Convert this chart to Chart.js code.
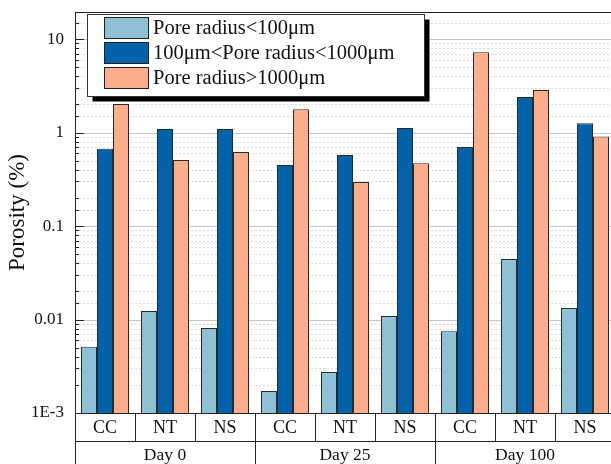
<!DOCTYPE html>
<html>
<head>
<meta charset="utf-8">
<script src="https://cdn.jsdelivr.net/npm/chart.js@4/dist/chart.umd.min.js"></script>
<style>
    html, body { margin: 0; padding: 0; background: #fff; overflow: hidden; }
    canvas { display: block; }
</style>
</head>
<body>
<canvas id="porosityChart" width="630" height="464"></canvas>
<script>
const samples = ['CC', 'NT', 'NS', 'CC', 'NT', 'NS', 'CC', 'NT', 'NS'];
const days = ['Day 0', 'Day 25', 'Day 100'];
const seriesLabels = ['Pore radius<100\u03bcm', '100\u03bcm<Pore radius<1000\u03bcm', 'Pore radius>1000\u03bcm'];
const smallPores = [0.0051, 0.0123, 0.0081, 0.00172, 0.00274, 0.0109, 0.0075, 0.0444, 0.0133];
const mediumPores = [0.67, 1.09, 1.09, 0.45, 0.575, 1.12, 0.70, 2.40, 1.26];
const largePores = [2.02, 0.508, 0.62, 1.78, 0.296, 0.47, 7.25, 2.85, 0.91];
const yTickLabels = { 0.001: '1E-3', 0.01: '0.01', 0.1: '0.1', 1: '1', 10: '10' };

document.addEventListener('DOMContentLoaded', () => {
    const ctx = document.getElementById('porosityChart').getContext('2d');
    const serif = '"Liberation Serif", "Times New Roman", serif';

    function isDecade(v) {
        const l = Math.log10(v);
        return Math.abs(l - Math.round(l)) < 1e-9;
    }

    // grid lines + inward tick marks, solid at decades and dotted in between
    const logGrid = {
        id: 'logGrid',
        beforeDatasetsDraw(chart) {
            const { ctx, chartArea: a, scales: { y } } = chart;
            ctx.save();
            y.ticks.forEach(t => {
                const py = Math.round(y.getPixelForValue(t.value)) + 0.5;
                if (py < a.top + 1 || py > a.bottom - 1) return;
                const major = isDecade(t.value);
                ctx.beginPath();
                ctx.lineWidth = 1;
                if (major) {
                    ctx.setLineDash([]);
                    ctx.strokeStyle = '#c6c6c6';
                } else {
                    ctx.setLineDash([2, 2]);
                    ctx.strokeStyle = '#dcdcdc';
                }
                ctx.moveTo(a.left, py);
                ctx.lineTo(a.right, py);
                ctx.stroke();
            });
            ctx.restore();
        },
        afterDatasetsDraw(chart) {
            const { ctx, chartArea: a, scales: { y } } = chart;
            ctx.save();
            ctx.strokeStyle = '#222';
            ctx.lineWidth = 1;
            y.ticks.forEach(t => {
                const py = Math.round(y.getPixelForValue(t.value)) + 0.5;
                if (py < a.top + 1 || py > a.bottom) return;
                const len = isDecade(t.value) ? 9 : 4;
                ctx.beginPath();
                ctx.moveTo(a.left, py);
                ctx.lineTo(a.left + len, py);
                ctx.stroke();
            });
            ctx.restore();
        }
    };

    // frame and the two-row category table under the plot
    const tableAxis = {
        id: 'tableAxis',
        afterDraw(chart) {
            const { ctx, chartArea: a, scales: { x } } = chart;
            const h = chart.height;
            const rowMid = a.bottom + 28;
            const left = Math.round(a.left) + 0.5;
            ctx.save();
            ctx.strokeStyle = '#222';
            ctx.lineWidth = 1;
            ctx.beginPath();
            ctx.moveTo(left, a.top + 0.5);
            ctx.lineTo(a.right + 20, a.top + 0.5);
            ctx.moveTo(left, a.top);
            ctx.lineTo(left, h);
            ctx.moveTo(left, a.bottom + 0.5);
            ctx.lineTo(a.right + 20, a.bottom + 0.5);
            ctx.moveTo(left, rowMid + 0.5);
            ctx.lineTo(a.right + 20, rowMid + 0.5);
            ctx.stroke();

            ctx.fillStyle = '#111';
            ctx.textAlign = 'center';
            ctx.textBaseline = 'middle';
            ctx.font = '18px ' + serif;
            samples.forEach((s, i) => {
                const cx = x.getPixelForValue(i);
                const step = i < samples.length - 1 ? x.getPixelForValue(i + 1) - cx : cx - x.getPixelForValue(i - 1);
                const edge = Math.round(cx + step / 2) + 0.5;
                ctx.beginPath();
                ctx.moveTo(edge, a.bottom);
                ctx.lineTo(edge, (i + 1) % 3 === 0 ? h : rowMid);
                ctx.stroke();
                ctx.fillText(s, cx, a.bottom + 15);
            });
            ctx.font = '17.5px ' + serif;
            days.forEach((d, g) => {
                const cx = (x.getPixelForValue(g * 3) + x.getPixelForValue(g * 3 + 2)) / 2;
                ctx.fillText(d, cx, rowMid + 14);
            });
            ctx.restore();
        }
    };

    // boxed legend with drop shadow inside the plot
    const boxLegend = {
        id: 'boxLegend',
        afterDraw(chart) {
            const { ctx } = chart;
            const bx = 87.5, by = 14.5, bw = 337, bh = 82;
            ctx.save();
            ctx.fillStyle = '#000';
            ctx.fillRect(bx + 5, by + 5, bw, bh);
            ctx.fillStyle = '#fff';
            ctx.fillRect(bx, by, bw, bh);
            ctx.strokeStyle = '#333';
            ctx.lineWidth = 1;
            ctx.strokeRect(bx, by, bw, bh);
            ctx.font = '20.5px ' + serif;
            ctx.textBaseline = 'middle';
            ctx.textAlign = 'left';
            chart.data.datasets.forEach((ds, i) => {
                const ry = 17.5 + i * 25;
                ctx.fillStyle = ds.backgroundColor;
                ctx.fillRect(104.5, ry, 44, 21);
                ctx.strokeStyle = '#222';
                ctx.strokeRect(104.5, ry, 44, 21);
                ctx.fillStyle = '#111';
                ctx.fillText(ds.label, 153, ry + 11);
            });
            ctx.restore();
        }
    };

    new Chart(ctx, {
        type: 'bar',
        data: {
            labels: samples,
            datasets: [
                { label: seriesLabels[0], data: smallPores, backgroundColor: '#8ec0d6' },
                { label: seriesLabels[1], data: mediumPores, backgroundColor: '#0063a9' },
                { label: seriesLabels[2], data: largePores, backgroundColor: '#fcad8b' }
            ].map(d => Object.assign(d, {
                borderColor: '#2a2a2a',
                borderWidth: 1,
                categoryPercentage: 0.8,
                barPercentage: 1.0
            }))
        },
        options: {
            responsive: false,
            devicePixelRatio: 1,
            animation: false,
            layout: { padding: { left: 0, top: 12, right: 15, bottom: 0 } },
            plugins: { legend: { display: false }, tooltip: { enabled: false } },
            scales: {
                x: {
                    ticks: { display: false },
                    grid: { display: false, drawTicks: false },
                    border: { display: false },
                    afterFit: s => { s.height = 51; }
                },
                y: {
                    type: 'logarithmic',
                    min: 0.001,
                    max: 19.5,
                    afterFit: s => {
                        s.width = 75;
                        s.paddingTop = 0;
                        s.paddingBottom = 0;
                    },
                    grid: { display: false, drawTicks: false },
                    border: { display: false },
                    ticks: {
                        autoSkip: false,
                        padding: 11,
                        color: '#111',
                        font: { family: serif, size: 17 },
                        callback: v => yTickLabels[v] || ''
                    },
                    title: {
                        display: true,
                        text: 'Porosity (%)',
                        color: '#111',
                        font: { family: serif, size: 23 },
                        padding: { top: 4, bottom: 4 }
                    }
                }
            }
        },
        plugins: [logGrid, tableAxis, boxLegend]
    });
});
</script>
</body>
</html>
